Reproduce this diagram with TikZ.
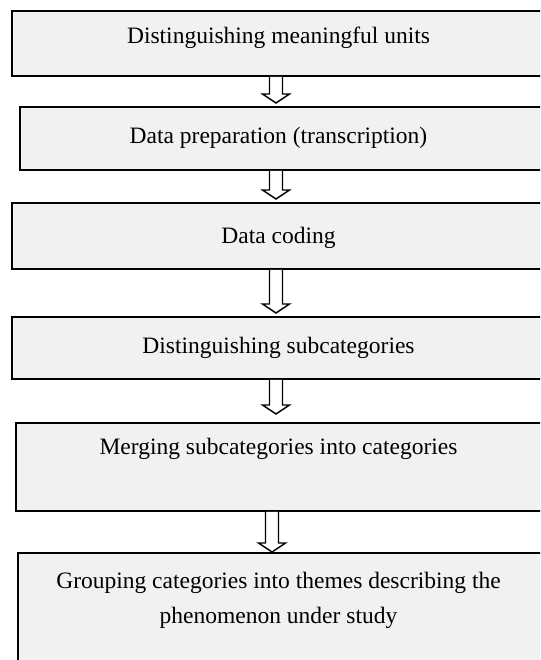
\documentclass[tikz,border=0pt]{standalone}
\usepackage{fontspec}
\setmainfont{Liberation Serif}
\usetikzlibrary{calc}
\definecolor{boxfill}{HTML}{F1F1F1}
\tikzset{
  stepbox/.style={draw=black, fill=boxfill, line width=1.8pt, rectangle, inner sep=0pt},
  lbl/.style={anchor=base, inner sep=0pt, font=\fontsize{23.5}{35}\selectfont, align=center},
  blockarrow/.style={draw=black, line width=1.4pt, fill=white, line join=miter,
    to path={let \p1=(\tikztostart), \p2=(\tikztotarget) in
      (\x1-6.5pt,\y1) -- (\x1-6.5pt,\y2+9pt) -- (\x1-13.5pt,\y2+9pt) -- (\x2,\y2)
      -- (\x1+13.5pt,\y2+9pt) -- (\x1+6.5pt,\y2+9pt) -- (\x1+6.5pt,\y1)}}
}
\begin{document}
\begin{tikzpicture}[x=1pt,y=-1pt]
\useasboundingbox (0,0) rectangle (540,660);
\clip (0,0) rectangle (540,660);
\node[stepbox, minimum width=548pt, minimum height=65pt] (b1) at (286,43.5) {};
\node[stepbox, minimum width=540pt, minimum height=63pt] (b2) at (290,138.5) {};
\node[stepbox, minimum width=548pt, minimum height=66pt] (b3) at (286,236) {};
\node[stepbox, minimum width=548pt, minimum height=62pt] (b4) at (286,348) {};
\node[stepbox, minimum width=544pt, minimum height=88pt] (b5) at (288,467) {};
\node[stepbox, minimum width=542pt, minimum height=137pt] (b6) at (289,621.5) {};

\node[lbl] (l1) at (278.5,44) {Distinguishing meaningful units};
\node[lbl] (l2) at (278.5,144) {Data preparation (transcription)};
\node[lbl] (l3) at (278.5,243) {Data coding};
\node[lbl] (l4) at (278.5,353) {Distinguishing subcategories};
\node[lbl] (l5) at (278.5,454) {Merging subcategories into categories};
\node[lbl] (l6a) at (278.5,588) {Grouping categories into themes describing the};
\node[lbl] (l6b) at (278.5,623) {phenomenon under study};

\coordinate (t1) at (276,103);
\coordinate (t2) at (276,199);
\coordinate (t3) at (276,313);
\coordinate (t4) at (276,414);
\coordinate (t5) at (272,552);
\draw[blockarrow] (b1.south -| t1) to (t1);
\draw[blockarrow] (b2.south -| t2) to (t2);
\draw[blockarrow] (b3.south -| t3) to (t3);
\draw[blockarrow] (b4.south -| t4) to (t4);
\draw[blockarrow] (b5.south -| t5) to (t5);
\end{tikzpicture}
\end{document}
